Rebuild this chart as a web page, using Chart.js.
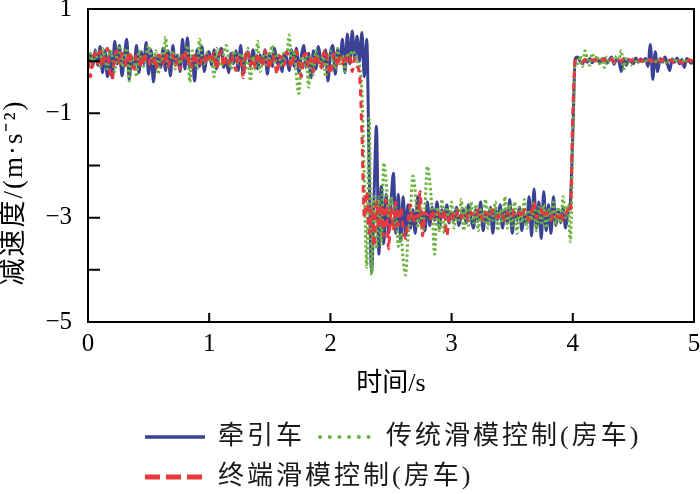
<!DOCTYPE html>
<html>
<head>
<meta charset="utf-8">
<script src="https://cdn.jsdelivr.net/npm/chart.js@4.4.1/dist/chart.umd.min.js"></script>
<style>
  html, body { margin: 0; padding: 0; background: #fff; }
  #wrap { width: 700px; height: 494px; position: relative; }
</style>
</head>
<body>
<div id="wrap"><canvas id="c" width="700" height="494"></canvas></div>
<script>
// ---- data (sampled every 0.02 s, t = 0 … 5 s) ----
const timeStep = 0.02;
const seriesNames = ['牵引车', '传统滑模控制(房车)', '终端滑模控制(房车)'];
const xTickValues = [0, 1, 2, 3, 4, 5];
const yTickLabels = ['1', '−1', '−3', '−5'];
const xTitle = '时间/s';
const yTitle = '减速度/(m·s⁻²)';

const tractor = [
  0.00, 0.12, -0.10, 0.22, -0.08, 0.28, -0.22, 0.20, -0.30, 0.18,
  -0.32, 0.38, -0.05, 0.30, -0.28, 0.10, 0.42, -0.35, 0.08, -0.12,
  0.30, -0.22, 0.18, -0.05, 0.36, -0.25, 0.22, -0.40, 0.10, 0.05,
  -0.12, 0.25, -0.18, 0.20, -0.28, 0.30, -0.05, 0.12, -0.20, 0.42,
  -0.15, 0.45, -0.12, 0.05, -0.38, 0.22, -0.10, 0.28, -0.20, 0.10,
  0.18, -0.08, 0.22, -0.15, 0.12, 0.25, -0.12, 0.05, -0.22, 0.15,
  -0.05, 0.20, -0.18, 0.30, -0.25, 0.10, 0.18, -0.10, 0.22, 0.05,
  -0.15, 0.12, -0.05, 0.22, -0.25, 0.15, -0.10, 0.25, -0.05, 0.10,
  -0.20, 0.15, 0.05, -0.18, 0.22, -0.10, 0.25, -0.22, 0.10, 0.30,
  -0.12, 0.15, -0.32, 0.20, -0.15, 0.28, 0.05, -0.10, 0.22, -0.38,
  0.15, 0.30, -0.25, 0.22, 0.05, 0.42, -0.22, 0.52, -0.05, 0.58,
  0.05, 0.48, 0.00, 0.55, -0.30, 0.42, -2.10, -4.05, -2.60, -1.25,
  -3.70, -2.40, -3.50, -2.55, -3.30, -2.70, -2.15, -3.30, -2.55, -3.45,
  -2.60, -3.35, -2.75, -3.20, -2.85, -3.30, -2.60, -3.10, -2.90, -3.25,
  -2.70, -3.15, -2.80, -3.05, -2.70, -3.20, -2.85, -3.00, -2.75, -3.10,
  -2.90, -3.05, -2.80, -3.15, -2.95, -2.85, -3.10, -2.75, -3.00, -3.20,
  -2.85, -3.05, -2.70, -3.25, -2.90, -3.10, -2.80, -3.30, -2.85, -3.05,
  -2.75, -3.20, -2.85, -3.10, -2.65, -3.30, -2.90, -3.05, -2.80, -3.25,
  -2.95, -3.10, -2.60, -3.35, -2.45, -3.20, -2.70, -3.40, -2.50, -3.25,
  -2.75, -3.30, -2.60, -3.15, -2.85, -3.10, -2.80, -3.20, -2.90, -2.70,
  -1.40, 0.05, 0.08, 0.00, -0.05, 0.03, -0.02, 0.05, -0.03, 0.02,
  0.06, -0.02, 0.00, 0.05, -0.04, 0.02, 0.08, -0.06, 0.03, 0.00,
  -0.20, 0.05, -0.08, 0.03, 0.00, -0.05, 0.06, -0.02, 0.04, 0.00,
  0.05, -0.10, 0.32, -0.35, 0.18, -0.20, 0.05, -0.02, 0.08, -0.05,
  -0.18, 0.04, -0.02, 0.06, -0.05, 0.03, -0.12, 0.05, 0.00, -0.04,
  0.02
];

const traditionalSMC = [
  0.05, 0.15, -0.05, 0.20, 0.00, -0.10, 0.25, 0.05, -0.15, 0.20,
  0.10, -0.20, 0.15, 0.30, -0.10, 0.05, 0.25, -0.38, 0.10, 0.00,
  -0.30, 0.20, 0.05, -0.10, 0.15, 0.30, 0.10, -0.05, 0.20, -0.25,
  0.15, 0.00, 0.46, -0.10, 0.05, 0.20, -0.15, 0.10, -0.05, 0.15,
  0.05, 0.30, -0.40, 0.20, 0.05, -0.15, 0.42, 0.10, -0.05, 0.15,
  0.00, 0.10, -0.30, 0.25, 0.05, -0.10, 0.15, 0.30, 0.05, -0.15,
  0.20, 0.10, -0.05, 0.15, 0.00, -0.20, 0.25, -0.38, 0.10, -0.15,
  0.38, -0.20, 0.05, 0.20, -0.10, 0.10, 0.30, -0.05, 0.15, 0.05,
  -0.10, 0.20, 0.10, 0.50, -0.05, 0.20, -0.30, -0.62, 0.05, -0.10,
  0.15, -0.50, 0.10, -0.25, 0.20, 0.05, -0.10, 0.15, -0.30, 0.10,
  0.20, 0.00, -0.15, 0.25, -0.05, 0.10, -0.20, 0.15, 0.05, 0.20,
  0.15, 0.00, -0.10, -0.60, -2.30, -3.95, -1.10, -4.10, -2.60, -3.60,
  -2.60, -3.50, -1.95, -2.30, -3.00, -2.60, -3.20, -2.80, -3.55, -3.30,
  -3.80, -4.10, -3.40, -2.90, -2.20, -2.50, -3.20, -2.70, -3.30, -2.80,
  -2.02, -2.30, -2.90, -3.70, -2.80, -3.25, -2.65, -3.30, -2.80, -3.10,
  -2.70, -3.20, -2.85, -3.05, -2.65, -3.25, -2.80, -3.15, -2.70, -3.10,
  -2.75, -3.25, -2.85, -3.10, -2.65, -3.20, -2.80, -3.05, -2.70, -3.25,
  -2.85, -3.10, -2.60, -3.20, -2.75, -3.15, -2.70, -3.30, -2.80, -3.10,
  -2.65, -3.20, -2.85, -3.05, -2.70, -3.25, -2.80, -3.10, -2.75, -3.20,
  -2.85, -3.05, -2.70, -3.15, -2.80, -3.10, -2.60, -3.00, -2.75, -3.46,
  -1.50, 0.00, -0.05, 0.10, -0.10, 0.20, 0.05, -0.08, 0.15, 0.00,
  0.10, -0.05, 0.05, -0.12, 0.08, 0.00, 0.05, -0.03, 0.10, 0.02,
  0.20, -0.15, 0.05, 0.00, -0.08, 0.05, 0.00, 0.03, -0.05, 0.02,
  0.00, 0.05, -0.03, 0.02, 0.00, -0.02, 0.05, 0.00, -0.05, 0.03,
  0.00, 0.02, -0.03, 0.05, 0.00, -0.02, 0.03, 0.00, -0.02, 0.02,
  0.00
];

const terminalSMC = [
  0.00, -0.30, 0.05, 0.15, -0.05, 0.20, -0.10, 0.10, 0.25, -0.20,
  -0.35, 0.10, 0.20, -0.05, 0.15, 0.05, -0.10, 0.18, 0.00, -0.15,
  0.12, 0.05, -0.12, 0.15, 0.00, -0.08, 0.10, 0.05, -0.15, 0.12,
  0.08, -0.05, 0.15, -0.10, 0.05, 0.12, -0.08, 0.02, -0.15, 0.10,
  0.20, -0.05, 0.08, -0.12, 0.15, 0.00, -0.10, 0.05, 0.12, -0.05,
  0.10, 0.00, 0.15, -0.15, 0.05, 0.20, -0.10, 0.08, -0.05, 0.12,
  0.00, -0.18, 0.10, 0.05, -0.32, 0.12, 0.20, -0.08, 0.05, -0.12,
  0.15, 0.02, -0.10, 0.20, 0.08, -0.15, 0.12, 0.00, -0.25, 0.10,
  0.05, -0.08, 0.18, 0.02, -0.12, 0.10, 0.20, -0.05, -0.30, 0.08,
  0.15, -0.10, 0.05, -0.20, 0.12, 0.00, -0.15, 0.10, 0.22, -0.08,
  -0.25, 0.05, 0.15, -0.10, 0.08, -0.05, 0.12, 0.00, 0.10, -0.20,
  0.05, -0.10, -0.25, -1.40, -3.00, -2.50, -3.30, -2.80, -3.55, -2.70,
  -3.20, -2.75, -3.35, -2.65, -3.60, -2.80, -3.25, -2.70, -3.15, -2.80,
  -3.20, -3.40, -3.05, -2.75, -3.10, -2.90, -3.00, -2.50, -3.35, -2.90,
  -2.95, -3.05, -2.85, -3.00, -2.90, -2.95, -3.05, -2.85, -3.35, -3.00,
  -2.90, -3.05, -2.95, -2.85, -3.00, -2.90, -2.95, -3.05, -2.90, -2.95,
  -3.00, -2.85, -2.95, -3.05, -2.90, -2.95, -3.00, -2.85, -2.95, -3.00,
  -2.90, -2.95, -3.05, -2.90, -2.95, -2.85, -3.00, -2.95, -2.90, -3.00,
  -2.85, -2.95, -3.05, -2.90, -2.70, -3.00, -2.95, -2.85, -3.00, -2.90,
  -2.95, -3.05, -2.90, -2.95, -3.00, -2.90, -3.05, -2.95, -2.85, -2.90,
  -1.00, 0.00, 0.02, 0.00, -0.02, 0.03, 0.00, -0.02, 0.02, 0.03,
  0.00, -0.03, 0.02, 0.05, -0.02, 0.00, 0.03, 0.00, -0.05, 0.02,
  0.00, 0.03, -0.02, 0.00, 0.02, 0.00, -0.03, 0.02, 0.00, 0.02,
  0.00, -0.02, 0.03, 0.00, 0.02, -0.02, 0.00, 0.03, 0.00, -0.02,
  0.02, 0.00, -0.03, 0.02, 0.00, -0.05, 0.02, 0.00, 0.03, 0.00,
  0.00
];

// time axis (positions of the samples)
const time = tractor.map((_, i) => Math.round(i * timeStep * 100) / 100);
const toPoints = arr => arr.map((v, i) => ({ x: time[i], y: v }));

const SERIF = '"Liberation Serif", "Noto Sans CJK SC", serif';
const CJK = '"Liberation Serif", "Noto Sans CJK SC", sans-serif';

// frame + inward ticks + y title
const framePlugin = {
  id: 'frame',
  afterDraw(chart) {
    const { ctx, chartArea: a, scales } = chart;
    ctx.save();
    ctx.strokeStyle = '#000';
    ctx.lineWidth = 2;
    ctx.setLineDash([]);
    ctx.strokeRect(a.left, a.top, a.right - a.left, a.bottom - a.top);
    ctx.beginPath();
    scales.x.ticks.forEach(t => {
      const px = scales.x.getPixelForValue(t.value);
      ctx.moveTo(px, a.bottom);
      ctx.lineTo(px, a.bottom - 9);
    });
    scales.y.ticks.forEach(t => {
      const py = scales.y.getPixelForValue(t.value);
      ctx.moveTo(a.left, py);
      ctx.lineTo(a.left + 12, py);
    });
    ctx.stroke();

    ctx.save();
    ctx.translate(15, (a.top + a.bottom) / 2 + 27);
    ctx.rotate(-Math.PI / 2);
    ctx.font = '27px ' + CJK;
    if ('letterSpacing' in ctx) ctx.letterSpacing = '2px';
    ctx.fillStyle = '#000';
    ctx.textAlign = 'center';
    ctx.textBaseline = 'middle';
    ctx.fillText(yTitle, 0, 0);
    ctx.restore();
    ctx.restore();
  }
};

// legend drawn below plot: two rows, left aligned
const legendPlugin = {
  id: 'legendRows',
  afterDraw(chart) {
    const { ctx } = chart;
    const layout = [
      { ds: 0, x: 145, y: 437, len: 60, tx: 218, lw: 3.5, dash: [], cap: 'butt' },
      { ds: 1, x: 320, y: 437, len: 56, tx: 386, lw: 4, dash: [0.1, 9.6], cap: 'round' },
      { ds: 2, x: 145, y: 477, len: 58, tx: 218, lw: 5, dash: [15, 6], cap: 'butt' }
    ];
    ctx.save();
    layout.forEach(it => {
      const ds = chart.data.datasets[it.ds];
      ctx.beginPath();
      ctx.strokeStyle = ds.borderColor;
      ctx.lineWidth = it.lw;
      ctx.lineCap = it.cap;
      ctx.setLineDash(it.dash);
      ctx.moveTo(it.x, it.y);
      ctx.lineTo(it.x + it.len, it.y);
      ctx.stroke();
      ctx.setLineDash([]);
      ctx.fillStyle = '#1a1a1a';
      ctx.font = '26px ' + CJK;
      if ('letterSpacing' in ctx) ctx.letterSpacing = '3px';
      ctx.textAlign = 'left';
      ctx.textBaseline = 'middle';
      ctx.fillText(ds.label, it.tx, it.y);
      if ('letterSpacing' in ctx) ctx.letterSpacing = '0px';
    });
    ctx.restore();
  }
};

new Chart(document.getElementById('c'), {
  type: 'line',
  data: {
    datasets: [
      {
        label: seriesNames[0],
        data: toPoints(tractor),
        borderColor: '#3b4194',
        borderWidth: 3,
        pointRadius: 0,
        cubicInterpolationMode: 'monotone',
        order: 3
      },
      {
        label: seriesNames[1],
        data: toPoints(traditionalSMC),
        borderColor: '#6db33f',
        borderWidth: 3,
        borderDash: [2.5, 2.5],
        pointRadius: 0,
        cubicInterpolationMode: 'monotone',
        order: 2
      },
      {
        label: seriesNames[2],
        data: toPoints(terminalSMC),
        borderColor: '#e8383d',
        borderWidth: 3,
        borderDash: [7, 5],
        pointRadius: 0,
        cubicInterpolationMode: 'monotone',
        order: 1
      }
    ]
  },
  options: {
    responsive: false,
    animation: false,
    events: [],
    layout: { padding: { top: 9, right: 6, bottom: 100, left: 0 } },
    plugins: { legend: { display: false }, tooltip: { enabled: false } },
    scales: {
      x: {
        type: 'linear',
        min: 0, max: 5,
        afterBuildTicks: s => { s.ticks = xTickValues.map(v => ({ value: v })); },
        afterFit: s => { s.height = 72; s.paddingLeft = 0; s.paddingRight = 0; },
        grid: { drawOnChartArea: false, drawTicks: false },
        border: { display: false },
        ticks: {
          padding: 7,
          color: '#000',
          font: { family: SERIF, size: 25 },
          maxRotation: 0,
          callback: v => String(v)
        },
        title: {
          display: true,
          text: xTitle,
          color: '#000',
          font: { family: CJK, size: 26 },
          padding: { top: 0, bottom: -6 }
        }
      },
      y: {
        min: -5, max: 1,
        ticks: {
          stepSize: 1,
          padding: 16,
          color: '#000',
          font: { family: SERIF, size: 25 },
          callback: v => {
            const idx = [1, -1, -3, -5].indexOf(v);
            return idx >= 0 ? yTickLabels[idx] : '';
          }
        },
        afterFit: s => { s.width = 88; s.paddingTop = 0; s.paddingBottom = 0; },
        grid: { drawOnChartArea: false, drawTicks: false },
        border: { display: false },
        title: { display: false }
      }
    }
  },
  plugins: [framePlugin, legendPlugin]
});
</script>
</body>
</html>
